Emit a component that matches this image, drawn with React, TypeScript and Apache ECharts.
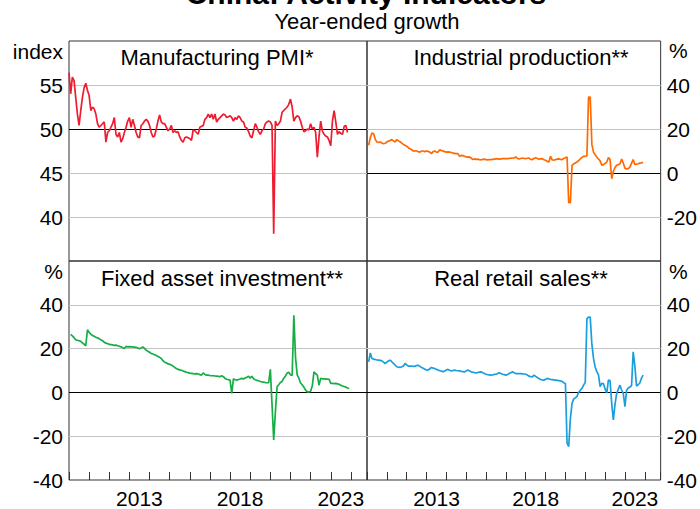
import { useEffect, useRef } from 'react';
import * as echarts from 'echarts';

// ---------- data (monthly) ----------
const START_YEAR = 2010;
const pmiStartMonth = 0; // months after Jan 2010
const otherStartMonth = 1;

const pmi = [
  56.4, 54.0, 55.9, 55.5, 53.6, 51.7, 50.4, 52.1, 53.6, 54.7,
  55.2, 54.4, 53.8, 52.1, 52.5, 52.3, 51.7, 50.6, 50.2, 50.4,
  50.6, 50.8, 48.5, 49.6, 49.8, 50.2, 50.6, 51.3, 49.4, 49.1,
  49.6, 48.5, 48.9, 49.6, 50.2, 50.9, 51.3, 50.2, 51.1, 50.4,
  49.6, 49.1, 49.0, 50.4, 50.6, 50.9, 51.1, 50.9, 50.4, 49.6,
  49.1, 49.2, 50.0, 50.9, 51.6, 50.8, 50.6, 50.6, 50.2, 49.8,
  50.0, 50.4, 49.6, 49.8, 49.6, 49.7, 49.1, 48.7, 48.5, 49.0,
  49.1, 49.0, 48.9, 48.7, 49.9, 49.8, 49.6, 49.4, 50.2, 50.3,
  50.4, 51.1, 51.3, 51.7, 51.3, 51.7, 51.1, 51.7, 50.8, 51.1,
  51.3, 51.5, 51.7, 51.6, 51.3, 51.4, 51.5, 51.3, 50.9, 51.3,
  51.1, 51.5, 51.3, 50.9, 50.8, 50.2, 50.1, 49.7, 49.2, 49.0,
  49.8, 50.6, 50.2, 49.7, 49.4, 49.8, 50.0, 50.6, 50.8, 50.9,
  50.8, 50.4, 38.1, 50.9, 50.4, 50.6, 50.9, 51.9, 52.1, 52.3,
  52.5, 52.8, 53.4, 52.5, 50.9, 51.3, 51.5, 51.4, 50.9, 50.2,
  49.7, 49.8, 50.0, 49.9, 50.6, 50.0, 50.2, 49.6, 46.8, 49.1,
  50.9, 49.8, 49.4, 49.2, 49.1, 48.7, 48.1, 50.9, 52.1, 50.8,
  49.4, 49.7, 49.5, 49.4, 50.3, 50.4, 49.6,
];

const industrialProduction = [
  12.6, 16.0, 18.2, 17.8, 15.3, 14.1, 13.9, 14.1, 13.6, 13.3,
  13.5, 14.1, 14.5, 14.8, 15.2, 14.6, 14.1, 15.2, 14.6, 14.2,
  13.6, 13.0, 12.6, 12.2, 11.5, 11.0, 10.6, 10.0, 10.1, 10.0,
  9.7, 9.5, 10.0, 10.0, 9.7, 10.0, 9.8, 9.5, 8.8, 9.7,
  10.0, 9.5, 9.5, 10.6, 10.2, 10.0, 9.7, 9.5, 9.6, 9.5,
  9.3, 9.0, 8.9, 8.8, 8.8, 7.6, 8.0, 7.9, 7.6, 7.3,
  7.2, 7.3, 6.8, 6.1, 6.4, 6.2, 6.3, 6.1, 6.0, 6.2,
  6.3, 6.1, 6.0, 6.1, 6.1, 6.2, 6.3, 6.4, 6.5, 6.3,
  6.4, 6.5, 6.5, 6.6, 6.5, 6.6, 6.8, 6.7, 6.9, 7.3,
  6.6, 6.4, 6.6, 6.8, 6.6, 6.5, 6.7, 6.8, 6.2, 6.1,
  6.6, 6.9, 6.6, 6.3, 6.4, 6.5, 6.0, 5.8, 5.3, 5.0,
  7.6, 6.0, 5.8, 6.1, 6.3, 6.4, 6.2, 6.1, 6.6, 6.9,
  7.3, -13.5, -13.5, 3.5, 4.2, 4.6, 5.0, 5.6, 6.5, 7.0,
  7.6, 7.6, 7.8, 34.5, 34.5, 13.0, 9.5, 8.3, 7.3, 6.4,
  5.5, 3.5, 3.8, 4.3, 5.0, 7.0, 6.2, -2.6, 0.8, 2.5,
  3.5, 3.8, 4.2, 6.3, 4.5, 2.2, 1.8, 2.0, 2.7, 4.5,
  6.1, 3.9, 4.0, 4.2, 4.5, 4.6, 4.8,
];

const fixedAssetInvestment = [
  26.5, 25.8, 25.0, 24.0, 23.8, 23.6, 23.3, 22.6, 22.0, 21.3,
  28.6, 27.4, 26.6, 26.0, 25.6, 25.2, 24.9, 24.5, 24.0, 23.6,
  22.9, 22.5, 22.3, 21.9, 21.8, 21.7, 21.5, 21.6, 21.3, 21.1,
  20.8, 20.4, 20.0, 21.0, 20.8, 20.9, 20.8, 20.8, 20.7, 20.6,
  20.3, 20.0, 20.2, 20.8, 20.1, 19.3, 18.8, 18.3, 17.8, 17.5,
  17.2, 16.8, 16.4, 16.0, 15.5, 14.5, 13.8, 13.5, 13.0, 12.8,
  12.5, 12.0, 11.4, 10.9, 10.5, 10.3, 10.1, 9.8, 9.5, 9.2,
  9.0, 8.8, 8.7, 8.6, 8.5, 8.6, 8.4, 8.1, 7.9, 8.9,
  8.2, 7.9, 7.9, 7.7, 7.6, 7.6, 7.5, 7.4, 7.3, 7.2,
  7.6, 7.2, 6.4, 6.0, 5.8, 5.6, -0.5, 6.2, 5.8, 5.6,
  5.9, 6.1, 6.4, 6.1, 6.6, 6.9, 7.4, 6.5, 7.4, 6.2,
  5.8, 5.5, 5.3, 5.0, 4.8, 4.7, 4.5, 4.4, 4.4, 10.5,
  -5.5, -21.7, -9.0, 2.6, 3.5, 4.5, 5.0, 6.5, 7.5, 8.8,
  9.2, 8.0, 7.8, 35.2, 16.0, 8.0, 6.5, 4.3, 3.5, 2.4,
  1.0, 0.2, 0.2, 0.5, 3.0, 9.4, 8.5, 7.9, 3.3, 6.4,
  6.2, 6.2, 6.1, 6.1, 6.0, 4.1, 4.1, 4.0, 4.1, 3.9,
  3.7, 3.2, 2.9, 2.7, 2.4, 2.0, 1.8,
];

const realRetailSales = [
  13.9, 18.0, 15.5, 15.2, 15.0, 14.8, 14.7, 14.6, 14.4, 13.8,
  13.2, 13.8, 14.4, 14.7, 14.0, 13.2, 12.5, 11.7, 11.5, 11.4,
  11.7, 12.0, 13.2, 12.6, 12.0, 12.0, 12.0, 11.9, 12.0, 12.2,
  12.4, 11.9, 11.4, 11.0, 10.5, 10.3, 10.2, 10.8, 11.4, 11.1,
  10.9, 10.5, 10.2, 9.9, 9.7, 9.4, 9.8, 10.2, 10.5, 10.1,
  9.8, 10.0, 10.2, 10.0, 9.9, 9.8, 9.6, 9.5, 9.4, 9.8,
  10.2, 9.8, 9.4, 9.2, 9.0, 8.9, 9.1, 9.3, 9.4, 9.0,
  8.6, 8.3, 8.1, 8.0, 7.9, 8.0, 8.2, 8.3, 8.6, 8.9,
  8.6, 8.3, 8.1, 7.9, 8.2, 8.6, 9.0, 9.4, 9.0, 8.6,
  8.6, 8.6, 8.6, 8.5, 8.4, 8.3, 7.9, 7.4, 7.2, 7.1,
  7.9, 7.3, 6.8, 6.3, 5.9, 5.7, 5.6, 6.0, 6.4, 6.2,
  5.9, 5.8, 5.7, 5.6, 5.5, 5.4, 5.3, 5.0, 4.4, 4.1,
  -23.2, -24.7, -12.0, -5.0, -3.0, -2.5, -1.8, 0.0, 1.0, 1.8,
  3.3, 4.6, 33.6, 34.4, 34.4, 22.0, 15.5, 11.5, 9.5, 8.0,
  2.6, 4.1, 4.0, 1.6, -0.3, 5.6, 5.4, -5.0, -12.6, -5.5,
  -0.5, 1.5, 3.3, 1.1, -0.5, -6.5, 1.0, 2.0, 2.5, 3.0,
  18.5, 12.0, 2.9, 3.5, 4.3, 6.5, 7.9,
];

const xLabelYears = [2013, 2018, 2023];
const panelTitles = [
  'Manufacturing PMI*',
  'Industrial production**',
  'Fixed asset investment**',
  'Real retail sales**',
];
const seriesColors = ['#EE1C2E', '#FF6A00', '#15AE45', '#1A9FDE'];

// ---------- helpers ----------
const FONT = "'Liberation Sans', Arial, Helvetica, sans-serif";

function toPairs(values: number[], startMonth: number) {
  return values.map((v, i) => [START_YEAR + (startMonth + i) / 12, v]);
}

export default function App() {
  const ref = useRef<HTMLDivElement>(null);

  useEffect(() => {
    document.body.style.margin = '0';
    if (!ref.current) return;
    const chart = echarts.init(ref.current, undefined, { renderer: 'svg' });

    const L = 69, M = 367, R = 664, T = 41, MID = 261, B = 480;
    const gridBase = { show: true, borderColor: '#333', borderWidth: 1, backgroundColor: 'transparent' };
    const grids = [
      { ...gridBase, left: L, top: T, width: M - L, height: MID - T },
      { ...gridBase, left: M, top: T, width: R - M, height: MID - T },
      { ...gridBase, left: L, top: MID, width: M - L, height: B - MID },
      { ...gridBase, left: M, top: MID, width: R - M, height: B - MID },
    ];

    const xAxes = [0, 1, 2, 3].map((g) => {
      const bottom = g >= 2;
      return {
        type: 'value',
        gridIndex: g,
        position: 'bottom',
        min: 2010,
        max: 2024.8,
        interval: 1,
        axisLine: { show: false, onZero: false },
        splitLine: { show: false },
        axisTick: {
          show: bottom,
          inside: true,
          length: 8,
          lineStyle: { color: '#333', width: 1 },
        },
        axisLabel: {
          show: bottom,
          margin: 8,
          color: '#000',
          fontSize: 21,
          fontFamily: FONT,
          formatter: (v: number) => {
            const y = Math.round(v);
            return xLabelYears.includes(y) ? `{y|${y}}` : '';
          },
          rich: {
            y: { padding: [0, 0, 0, 20], fontSize: 21, fontFamily: FONT, color: '#000' },
          },
        },
      };
    });

    const yCommon = (g: number, pos: string, min: number, max: number, interval: number, hide: number[]) => ({
      type: 'value',
      gridIndex: g,
      position: pos,
      min,
      max,
      interval,
      axisLine: { show: false, onZero: false },
      axisTick: { show: false },
      splitLine: {
        show: true,
        showMinLine: false,
        showMaxLine: false,
        lineStyle: { color: '#c4c4c4', width: 1 },
      },
      axisLabel: {
        margin: 6,
        color: '#000',
        fontSize: 21,
        fontFamily: FONT,
        formatter: (v: number) => (hide.includes(v) ? '' : String(v)),
      },
    });

    const yAxes = [
      yCommon(0, 'left', 35, 60, 5, [35, 60]),
      yCommon(1, 'right', -40, 60, 20, [-40, 60]),
      yCommon(2, 'left', -40, 60, 20, [60]),
      yCommon(3, 'right', -40, 60, 20, [60]),
    ];

    const datasets = [
      { data: pmi, start: pmiStartMonth, ref: 50 },
      { data: industrialProduction, start: otherStartMonth, ref: 0 },
      { data: fixedAssetInvestment, start: otherStartMonth, ref: 0 },
      { data: realRetailSales, start: otherStartMonth, ref: 0 },
    ];

    const series = datasets.map((d, i) => ({
      type: 'line',
      xAxisIndex: i,
      yAxisIndex: i,
      data: toPairs(d.data, d.start),
      showSymbol: false,
      symbol: 'none',
      lineStyle: { color: seriesColors[i], width: 1.7 },
      itemStyle: { color: seriesColors[i] },
      z: 3,
      markLine: {
        silent: true,
        symbol: ['none', 'none'],
        label: { show: false },
        lineStyle: { color: '#000', width: 1, type: 'solid' },
        data: [{ yAxis: d.ref }],
        z: 2,
      },
    }));

    const titlePos = [
      { x: 217, y: 57 },
      { x: 521, y: 57 },
      { x: 222, y: 278 },
      { x: 521, y: 278 },
    ];

    const txt = (text: string, x: number, y: number, align: string, size = 21, weight = 'normal', vAlign = 'middle') => ({
      type: 'text',
      x,
      y,
      silent: true,
      style: {
        text,
        fill: '#000',
        font: `${weight} ${size}px ${FONT}`,
        textAlign: align,
        textVerticalAlign: vAlign,
      },
    });

    const graphic = [
      txt('China: Activity Indicators', 366, 8, 'center', 30, 'bold', 'bottom'),
      txt('Year-ended growth', 367, 21, 'center', 22),
      ...panelTitles.map((t, i) => txt(t, titlePos[i].x, titlePos[i].y, 'center', 22)),
      txt('index', 63, 51, 'right'),
      txt('%', 669, 50, 'left'),
      txt('%', 63, 271, 'right'),
      txt('%', 669, 271, 'left'),
    ];

    chart.setOption({
      animation: false,
      backgroundColor: '#fff',
      grid: grids,
      xAxis: xAxes,
      yAxis: yAxes,
      series,
      graphic,
    });

    return () => chart.dispose();
  }, []);

  return <div ref={ref} style={{ width: 700, height: 509 }} />;
}
